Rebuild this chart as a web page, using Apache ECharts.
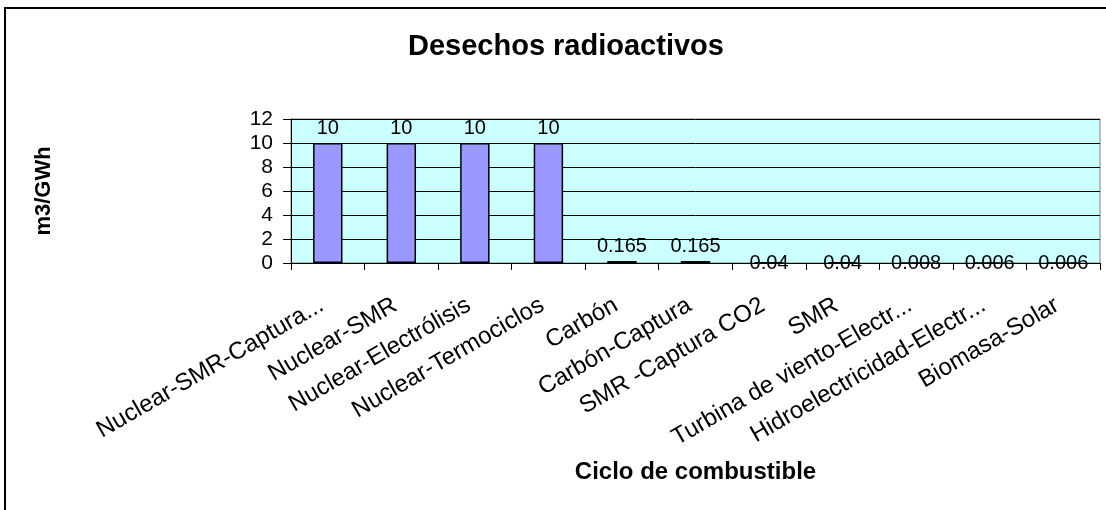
<!DOCTYPE html>
<html lang="es">
<head>
  <meta charset="UTF-8">
  <title>Desechos radioactivos</title>
  <script src="https://cdn.jsdelivr.net/npm/echarts/dist/echarts.min.js"></script>
  <style>
    body { margin: 0; background: #fff; }
    #chart { width: 1106px; height: 510px; }
  </style>
</head>
<body>
  <div id="chart"></div>
  <script>
    const categories = [
      'Nuclear-SMR-Captura...', 'Nuclear-SMR', 'Nuclear-Electrólisis', 'Nuclear-Termociclos',
      'Carbón', 'Carbón-Captura', 'SMR -Captura CO2', 'SMR',
      'Turbina de viento-Electr...', 'Hidroelectricidad-Electr...', 'Biomasa-Solar'
    ];
    const values = [10, 10, 10, 10, 0.165, 0.165, 0.04, 0.04, 0.008, 0.006, 0.006];
    const yTicks = { min: 0, max: 12, step: 2 };

    const font = 'Arial, "Liberation Sans", sans-serif';
    const chart = echarts.init(document.getElementById('chart'));

    chart.setOption({
      animation: false,
      textStyle: { fontFamily: font, color: '#000' },
      title: {
        text: 'Desechos radioactivos',
        left: 403,
        top: 27,
        textStyle: { fontFamily: font, fontSize: 29, fontWeight: 'bold', color: '#000' }
      },
      graphic: [{
        type: 'rect',
        shape: { x: 5, y: 8, width: 1110, height: 520 },
        style: { fill: 'none', stroke: '#000', lineWidth: 2 }
      }],
      grid: {
        left: 291, right: 6, top: 119, bottom: 247,
        show: true, backgroundColor: '#CCFFFF', borderColor: '#808080', borderWidth: 1
      },
      xAxis: {
        type: 'category',
        data: categories,
        name: 'Ciclo de combustible',
        nameLocation: 'middle',
        nameGap: 197,
        nameTextStyle: { fontFamily: font, fontSize: 24, fontWeight: 'bold', color: '#000' },
        axisLine: { lineStyle: { color: '#000', width: 1 } },
        axisTick: { show: true, length: 7, lineStyle: { color: '#000' } },
        axisLabel: {
          interval: 0, rotate: 30, margin: 37, padding: [0, 7, 0, 0],
          fontFamily: font, fontSize: 24, color: '#000'
        }
      },
      yAxis: {
        type: 'value',
        min: yTicks.min, max: yTicks.max, interval: yTicks.step,
        name: 'm3/GWh',
        nameLocation: 'middle',
        nameGap: 236,
        nameTextStyle: { fontFamily: font, fontSize: 22, fontWeight: 'bold', color: '#000' },
        axisLine: { show: true, lineStyle: { color: '#000', width: 1 } },
        axisTick: { show: true, length: 8, lineStyle: { color: '#000' } },
        axisLabel: { fontFamily: font, fontSize: 21, color: '#000', margin: 18 },
        splitLine: { lineStyle: { color: '#000', width: 1 } }
      },
      series: [{
        type: 'bar',
        barWidth: '40%',
        data: values.map(v => ({
          value: v,
          // very small values: Excel puts the label on the axis line
          label: { distance: v < 0.1 ? -11 : 5 }
        })),
        itemStyle: { color: '#9999FF', borderColor: '#000', borderWidth: 1.5 },
        label: {
          show: true, position: 'top',
          fontFamily: font, fontSize: 20, color: '#000'
        }
      }]
    });
  </script>
</body>
</html>
